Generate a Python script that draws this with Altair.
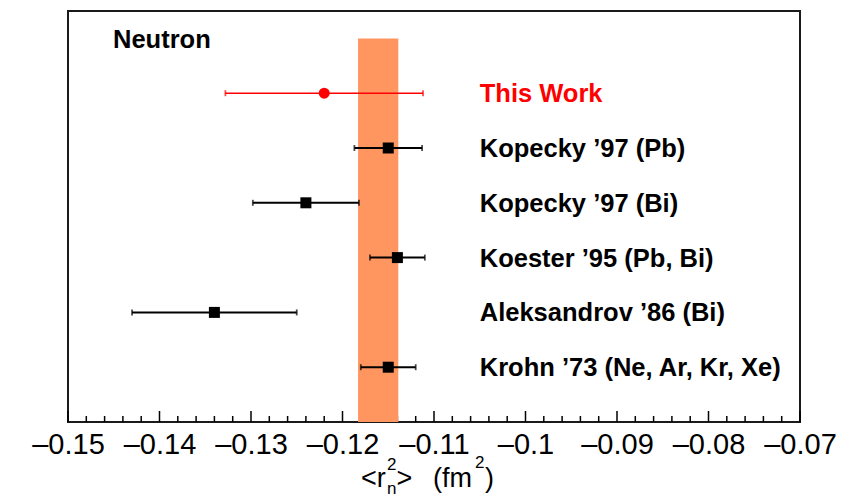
import altair as alt
import pandas as pd

# Measurements of the neutron mean-square charge radius <r_n^2> (fm^2)
labels = [
    "This Work",
    "Kopecky ’97 (Pb)",
    "Kopecky ’97 (Bi)",
    "Koester ’95 (Pb, Bi)",
    "Aleksandrov ’86 (Bi)",
    "Krohn ’73 (Ne, Ar, Kr, Xe)",
]
rows = [6, 5, 4, 3, 2, 1]
centers = [-0.1220, -0.1150, -0.1240, -0.1140, -0.1340, -0.1150]
errors = [0.0108, 0.0037, 0.0058, 0.0030, 0.0090, 0.0030]
kinds = ["this", "prev", "prev", "prev", "prev", "prev"]

# World-average band
band_lo = -0.1183
band_hi = -0.1139

# Axis tick values
major_ticks = [-0.15, -0.14, -0.13, -0.12, -0.11, -0.10, -0.09, -0.08, -0.07]
minor_ticks = [round(-0.15 + 0.002 * i, 3) for i in range(41)]

FONT = "Liberation Sans"
W, H = 732, 411
PAD_L, PAD_T = 68, 11
LABEL_X = -0.105

df = pd.DataFrame({
    "label": labels,
    "row": rows,
    "center": centers,
    "lo": [c - e for c, e in zip(centers, errors)],
    "hi": [c + e for c, e in zip(centers, errors)],
    "kind": kinds,
})

xscale = alt.Scale(domain=[-0.15, -0.07], nice=False, zero=False)
yscale = alt.Scale(domain=[0, 7.5], nice=False, zero=False)

color_scale = alt.Scale(domain=["this", "prev"], range=["#ff0000", "#000000"])
shape_scale = alt.Scale(domain=["this", "prev"], range=["circle", "square"])
width_scale = alt.Scale(domain=["this", "prev"], range=[1.5, 2])

x_axis = alt.Axis(
    values=major_ticks,
    labelExpr="'–' + format(-datum.value, '.2~f')",
    ticks=False,
    domain=False,
    grid=False,
    labelFont=FONT,
    labelFontSize=29,
    labelColor="black",
    labelPadding=8,
    labelFlush=False,
    labelOverlap=False,
    title=None,
)

# inward-pointing ticks along the bottom edge
tick_df = pd.DataFrame({"t": minor_ticks, "major": [t in major_ticks for t in minor_ticks]})
minor = alt.Chart(tick_df).transform_filter("!datum.major").mark_rule(
    color="black", strokeWidth=1.5
).encode(
    x=alt.X("t:Q", scale=xscale, axis=x_axis),
    y=alt.value(H),
    y2=alt.value(H - 6),
)
major = alt.Chart(tick_df).transform_filter("datum.major").mark_rule(
    color="black", strokeWidth=1.5
).encode(
    x=alt.X("t:Q", scale=xscale),
    y=alt.value(H),
    y2=alt.value(H - 11),
)

band = alt.Chart(pd.DataFrame({"lo": [band_lo], "hi": [band_hi], "y0": [0], "y1": [7]})).mark_rect(
    color="#ff9660", opacity=1
).encode(
    x=alt.X("lo:Q", scale=xscale),
    x2="hi:Q",
    y=alt.Y("y0:Q", scale=yscale, axis=None),
    y2="y1:Q",
)

base = alt.Chart(df)

err_line = base.mark_rule().encode(
    x=alt.X("lo:Q", scale=xscale),
    x2="hi:Q",
    y=alt.Y("row:Q", scale=yscale, axis=None),
    color=alt.Color("kind:N", scale=color_scale, legend=None),
    strokeWidth=alt.StrokeWidth("kind:N", scale=width_scale, legend=None),
)

cap_lo = base.mark_tick(orient="vertical", size=6, thickness=1.8).encode(
    x=alt.X("lo:Q", scale=xscale),
    y=alt.Y("row:Q", scale=yscale, axis=None),
    color=alt.Color("kind:N", scale=color_scale, legend=None),
)
cap_hi = base.mark_tick(orient="vertical", size=6, thickness=1.8).encode(
    x=alt.X("hi:Q", scale=xscale),
    y=alt.Y("row:Q", scale=yscale, axis=None),
    color=alt.Color("kind:N", scale=color_scale, legend=None),
)

points = base.mark_point(filled=True, size=121, opacity=1).encode(
    x=alt.X("center:Q", scale=xscale),
    y=alt.Y("row:Q", scale=yscale, axis=None),
    color=alt.Color("kind:N", scale=color_scale, legend=None),
    shape=alt.Shape("kind:N", scale=shape_scale, legend=None),
)

names = base.mark_text(
    align="left", baseline="alphabetic", dy=9, font=FONT, fontWeight="bold", fontSize=25.5
).encode(
    x=alt.datum(LABEL_X, scale=xscale),
    y=alt.Y("row:Q", scale=yscale, axis=None),
    text="label:N",
    color=alt.Color("kind:N", scale=color_scale, legend=None),
)

one = pd.DataFrame({"k": [0]})


def piece(text, x_abs, y_abs, size, weight="normal"):
    """Text fragment placed in page pixels (left/baseline anchored)."""
    return alt.Chart(one).mark_text(
        text=text, align="left", baseline="alphabetic", font=FONT,
        fontSize=size, fontWeight=weight, color="black",
    ).encode(x=alt.value(x_abs - PAD_L), y=alt.value(y_abs - PAD_T))


neutron = piece("Neutron", 113, 47.5, 25.5, "bold")

# axis title  <r_n^2> (fm^2)  with stacked sub/superscript
title_parts = [
    piece("<r", 361, 486.5, 27),
    piece("2", 387, 470, 17),
    piece("n", 387, 494, 17),
    piece(">", 396.5, 486.5, 27),
    piece("(fm", 433, 486.5, 27),
    piece("2", 475, 468, 17),
    piece(")", 485, 486.5, 27),
]

chart = alt.layer(
    minor, major, band, err_line, cap_lo, cap_hi, points, names, neutron, *title_parts
).properties(
    width=W,
    height=H,
    autosize=alt.AutoSizeParams(type="none"),
    padding={"left": PAD_L, "top": PAD_T, "right": 859 - PAD_L - W, "bottom": 499 - PAD_T - H},
    background="white",
).configure_view(
    stroke="#1a1a1a", strokeWidth=2
)

chart.save("out.html", embed_options={"renderer": "svg", "actions": False})
